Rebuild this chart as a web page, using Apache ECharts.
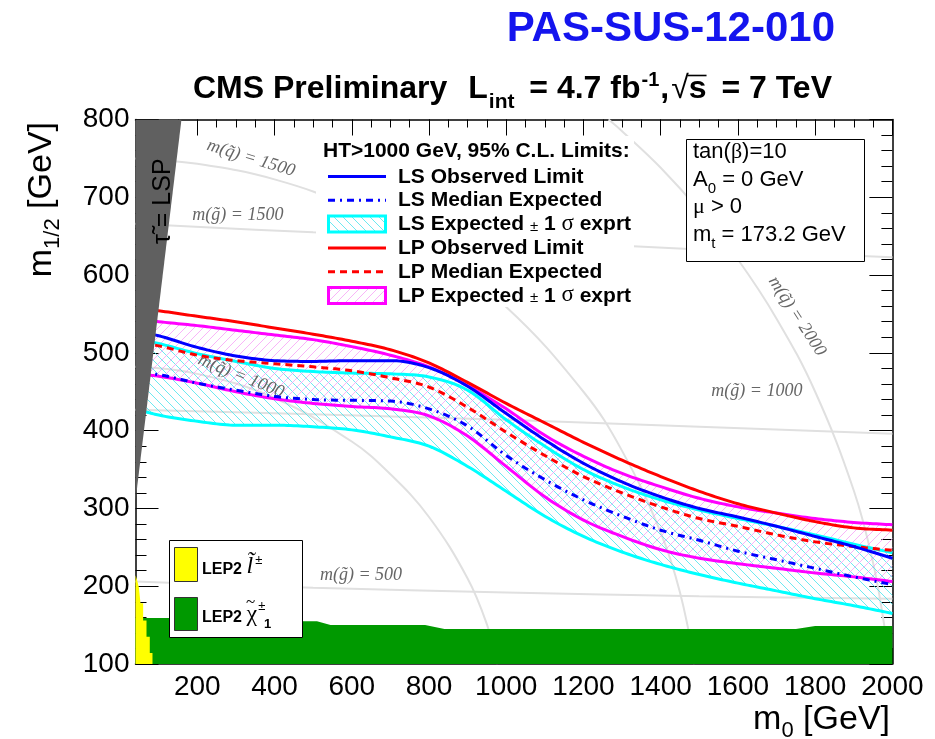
<!DOCTYPE html>
<html>
<head>
<meta charset="utf-8">
<title>CMS SUSY LS/LP limits, HT&gt;1000 GeV</title>
<script src="https://cdn.jsdelivr.net/npm/echarts@6/dist/echarts.min.js"></script>
<style>
html, body { margin: 0; padding: 0; background: #fff; }
#chart { width: 935px; height: 739px; }
</style>
</head>
<body>
<div id="chart"></div>
<script>
// ---- exclusion contours: m1/2 (GeV) sampled on a common m0 grid (GeV) ----
const m0    = [60, 100, 200, 300, 400, 500, 600, 700, 800, 900, 1000, 1100, 1200, 1300, 1400, 1500, 1600, 1700, 1800, 1900, 2000];
const lpObs = [556, 554, 547, 540, 532, 524, 515, 504, 487, 462, 435, 410, 385, 362, 341, 322, 306, 294, 283, 275, 272];
const lpUp  = [542, 540, 535, 529, 523, 517, 508, 497, 482, 458, 428, 394, 367, 345, 328, 313, 302, 294, 287, 282, 279];
const lpExp = [512, 509, 497, 490, 486, 482, 477, 468, 456, 430, 398, 368, 341, 320, 302, 287, 277, 266, 257, 251, 246];
const lpDn  = [472, 470, 461, 450, 441, 435, 431, 428, 419, 393, 354, 315, 285, 264, 247, 236, 229, 223, 217, 212, 206];
const lsObs = [526, 522, 507, 496, 490, 489, 490, 490, 481, 457, 422, 388, 358, 334, 315, 300, 289, 277, 264, 251, 236];
const lsUp  = [516, 512, 499, 489, 480, 476, 474, 473, 469, 452, 414, 380, 350, 328, 311, 298, 287, 277, 266, 254, 243];
const lsExp = [474, 472, 461, 452, 444, 440, 439, 438, 428, 406, 368, 337, 311, 290, 272, 259, 245, 234, 223, 212, 202];
const lsDn  = [425, 420, 412, 407, 407, 405, 401, 392, 380, 354, 322, 290, 264, 244, 228, 215, 204, 194, 184, 175, 165];

// ---- LEP2 exclusions ----
const lepSleptonM0   = [40, 44, 48.6, 53, 59.8, 68.5, 77, 84];
const lepSleptonM12  = [214, 208, 199, 178, 156, 135, 114, 100];
const lepCharginoM0  = [40, 430, 470, 510, 545, 790, 840, 1750, 1800, 2000];
const lepCharginoM12 = [159, 159, 155, 155, 150, 150, 145, 145, 149, 149];

// ---- stau LSP region ----
const stauLspM0  = [40, 159, 40];
const stauLspM12 = [800, 800, 310];

// ---- iso-mass curves [m0, m1/2] ----
const squark1000 = [[40, 482], [200, 473], [400, 442], [600, 386], [700, 344], [800, 289], [900, 210], [950, 151], [978, 100]];
const squark1500 = [[40, 750], [200, 743], [400, 723], [600, 687], [800, 634], [1000, 559], [1200, 450], [1300, 374], [1400, 269], [1450, 192], [1488, 100]];
const squark2000 = [[1265, 800], [1300, 785], [1400, 738], [1500, 683], [1600, 620], [1700, 544], [1800, 450], [1900, 323], [1950, 230], [1980, 146], [1991, 100]];
const gluino500  = [[40, 206], [500, 198], [1000, 192], [1500, 187], [2000, 184]];
const gluino1000 = [[40, 427], [500, 421], [1000, 414], [1500, 405], [2000, 396]];
const gluino1500 = [[40, 666], [500, 655], [1000, 645], [1500, 633], [2000, 623]];

// ---- axis ticks ----
const xTicks = [200, 400, 600, 800, 1000, 1200, 1400, 1600, 1800, 2000];
const xMinorTicks = [];
for (let v = 50; v <= 2000; v += 50) xMinorTicks.push(v);

// labels on the iso-mass curves
const isoLabels = [
  { m0: 339,  m12: 750, text: 'm(q\u0303) = 1500', angle: -17 },
  { m0: 305,  m12: 677, text: 'm(g\u0303) = 1500', angle: 0 },
  { m0: 313,  m12: 470, text: 'm(q\u0303) = 1000', angle: -22 },
  { m0: 1649, m12: 451, text: 'm(g\u0303) = 1000', angle: 0 },
  { m0: 1753, m12: 547, text: 'm(q\u0303) = 2000', angle: -57 },
  { m0: 624,  m12: 214, text: 'm(g\u0303) = 500', angle: 0 }
];

const SANS = '"Liberation Sans", Arial, Helvetica, sans-serif';
const SERIF = '"Liberation Serif", "Times New Roman", serif';
const CYAN = '#00ffff', MAGENTA = '#ff00ff', BLUE = '#0000ff', RED = '#ff0000';
const DASH = [7, 5], DASHDOT = [7, 5, 2, 5];

const zip = (xs, ys) => xs.map((x, i) => [x, ys[i]]);

// Smooth monotone (Fritsch-Carlson) curve through the contour points,
// evaluated finely for drawing.
function smoothCurve(xs, ys, perSeg) {
  const n = xs.length, d = [], m = new Array(n);
  for (let i = 0; i < n - 1; i++) d.push((ys[i + 1] - ys[i]) / (xs[i + 1] - xs[i]));
  m[0] = d[0]; m[n - 1] = d[n - 2];
  for (let i = 1; i < n - 1; i++) m[i] = (d[i - 1] * d[i] <= 0) ? 0 : (d[i - 1] + d[i]) / 2;
  for (let i = 0; i < n - 1; i++) {
    if (d[i] === 0) { m[i] = 0; m[i + 1] = 0; continue; }
    const a = m[i] / d[i], b = m[i + 1] / d[i], s = a * a + b * b;
    if (s > 9) { const t = 3 / Math.sqrt(s); m[i] = t * a * d[i]; m[i + 1] = t * b * d[i]; }
  }
  const out = [];
  for (let i = 0; i < n - 1; i++) {
    const h = xs[i + 1] - xs[i];
    for (let k = 0; k < perSeg; k++) {
      const t = k / perSeg, t2 = t * t, t3 = t2 * t;
      const y = (2 * t3 - 3 * t2 + 1) * ys[i] + (t3 - 2 * t2 + t) * h * m[i] +
                (-2 * t3 + 3 * t2) * ys[i + 1] + (t3 - t2) * h * m[i + 1];
      out.push([xs[i] + t * h, y]);
    }
  }
  out.push([xs[n - 1], ys[n - 1]]);
  return out;
}

// diagonal hatch tile used for the +-1 sigma bands
function hatch(dir, color, step) {
  const c = document.createElement('canvas');
  c.width = c.height = step;
  const g = c.getContext('2d');
  g.strokeStyle = color;
  g.lineWidth = 1;
  g.beginPath();
  for (let k = -1; k <= 1; k++) {
    if (dir === '\\') { g.moveTo(k * step, 0); g.lineTo(k * step + step, step); }
    else { g.moveTo(k * step, step); g.lineTo(k * step + step, 0); }
  }
  g.stroke();
  return { image: c, repeat: 'repeat' };
}
const cyanHatch = hatch('\\', 'rgba(60,225,235,0.75)', 9);
const pinkHatch = hatch('/', 'rgba(245,150,245,0.7)', 9);

// ---- text runs (sub/superscripts, mixed fonts) ----
const mctx = document.createElement('canvas').getContext('2d');
function fontStr(p) {
  return (p.italic ? 'italic ' : '') + (p.bold ? 'bold ' : '') + p.size + 'px ' + (p.fam || SANS);
}
function measure(p) { mctx.font = fontStr(p); return mctx.measureText(p.t).width; }
function runEls(parts, x0, base, opts) {
  opts = opts || {};
  const widths = parts.map(measure);
  const total = widths.reduce((a, b) => a + b, 0) + parts.reduce((a, p) => a + (p.dx || 0), 0);
  let x = opts.align === 'right' ? x0 - total : (opts.align === 'center' ? x0 - total / 2 : x0);
  const els = [], xs = [];
  parts.forEach((p, i) => {
    x += (p.dx || 0);
    xs.push(x);
    els.push({
      type: 'text', x: x, y: base + (p.dy || 0) - 0.345 * p.size, z: opts.z || 100, silent: true,
      style: { text: p.t, font: fontStr(p), fill: p.color || opts.color || '#000',
               align: 'left', verticalAlign: 'middle', textAlign: 'left', textVerticalAlign: 'middle' }
    });
    x += widths[i];
  });
  return { els: els, total: total, xs: xs, widths: widths };
}

const graphics = [];
function add(list) { list.forEach(e => graphics.push(e)); }

// header
add(runEls([{ t: 'PAS-SUS-12-010', size: 42, bold: true, color: '#1414ee' }], 835, 44, { align: 'right' }).els);
add(runEls([{ t: 'CMS Preliminary', size: 32, bold: true }], 193, 100).els);
const lumi = runEls([
  { t: 'L', size: 32, bold: true },
  { t: 'int', size: 21, bold: true, dy: 9, dx: 1 },
  { t: ' = 4.7 fb', size: 32, bold: true, dx: 6 },
  { t: '-1', size: 20, bold: true, dy: -13, dx: 1 },
  { t: ',', size: 32, bold: true, dx: 1 },
  { t: '\u221a', size: 32, dx: 2 },
  { t: 's', size: 32, bold: true },
  { t: ' = 7 TeV', size: 32, bold: true, dx: 6 }
], 832, 100, { align: 'right' });
add(lumi.els);
graphics.push({ type: 'line', z: 100, silent: true,
  shape: { x1: lumi.xs[5] + lumi.widths[5] - 1, y1: 75.5, x2: lumi.xs[6] + lumi.widths[6], y2: 75.5 },
  style: { stroke: '#000', lineWidth: 1.6 } });

// limits legend
graphics.push({ type: 'rect', z: 90, silent: true, shape: { x: 316, y: 136, width: 318, height: 171 }, style: { fill: '#fff' } });
add(runEls([{ t: 'HT>1000 GeV, 95% C.L. Limits:', size: 21, bold: true }], 323, 158).els);
const legendRows = [
  { kind: 'line', color: BLUE, dash: null, label: 'LS Observed Limit' },
  { kind: 'line', color: BLUE, dash: DASHDOT, label: 'LS Median Expected' },
  { kind: 'band', color: CYAN, fill: cyanHatch, label: 'LS Expected' },
  { kind: 'line', color: RED, dash: null, label: 'LP Observed Limit' },
  { kind: 'line', color: RED, dash: DASH, label: 'LP Median Expected' },
  { kind: 'band', color: MAGENTA, fill: pinkHatch, label: 'LP Expected' }
];
legendRows.forEach((r, i) => {
  const base = 184 + i * 23.8;
  const cy = base - 7.5;
  if (r.kind === 'line') {
    graphics.push({ type: 'line', z: 100, silent: true, shape: { x1: 328, y1: cy, x2: 386, y2: cy },
      style: { stroke: r.color, lineWidth: 3, lineDash: r.dash || null } });
    add(runEls([{ t: r.label, size: 21, bold: true }], 398, base).els);
  } else {
    graphics.push({ type: 'rect', z: 100, silent: true, shape: { x: 328.5, y: cy - 8, width: 57, height: 16 },
      style: { fill: r.fill, stroke: r.color, lineWidth: 3 } });
    add(runEls([
      { t: r.label + ' ', size: 21, bold: true },
      { t: '\u00b1', size: 15 },
      { t: ' 1 ', size: 21, bold: true },
      { t: '\u03c3', size: 23, fam: SERIF },
      { t: ' exprt', size: 21, bold: true }
    ], 398, base).els);
  }
});

// parameter box
graphics.push({ type: 'rect', z: 100, silent: true, shape: { x: 686.5, y: 139.5, width: 178, height: 122 },
  style: { fill: '#fff', stroke: '#000', lineWidth: 1 } });
add(runEls([{ t: 'tan(', size: 22 }, { t: '\u03b2', size: 22, fam: SERIF }, { t: ')=10', size: 22 }], 693, 160, { z: 101 }).els);
add(runEls([{ t: 'A', size: 22 }, { t: '0', size: 15, dy: 6 }, { t: ' = 0 GeV', size: 22 }], 693, 188, { z: 101 }).els);
add(runEls([{ t: '\u03bc', size: 22, fam: SERIF }, { t: ' > 0', size: 22 }], 693, 215, { z: 101 }).els);
add(runEls([{ t: 'm', size: 22 }, { t: 't', size: 15, dy: 6 }, { t: ' = 173.2 GeV', size: 22 }], 693, 243, { z: 101 }).els);

// LEP2 legend
graphics.push({ type: 'rect', z: 100, silent: true, shape: { x: 169.5, y: 540.5, width: 133, height: 97 },
  style: { fill: '#fff', stroke: '#000', lineWidth: 1 } });
graphics.push({ type: 'rect', z: 101, silent: true, shape: { x: 174.5, y: 547.5, width: 23, height: 34 },
  style: { fill: '#ffff00', stroke: '#333', lineWidth: 1 } });
graphics.push({ type: 'rect', z: 101, silent: true, shape: { x: 174.5, y: 597.5, width: 23, height: 33 },
  style: { fill: '#009900', stroke: '#333', lineWidth: 1 } });
add(runEls([{ t: 'LEP2 ', size: 16, bold: true }, { t: 'l\u0303', size: 24, italic: true, fam: SERIF },
  { t: '\u00b1', size: 13, dy: -10, dx: 2 }], 202, 575, { z: 101 }).els);
add(runEls([{ t: 'LEP2 ', size: 16, bold: true }, { t: '\u03c7', size: 24, fam: SERIF },
  { t: '~', size: 17, fam: SERIF, dx: -11, dy: -15 },
  { t: '\u00b1', size: 13, dy: -12, dx: 3 }], 202, 623, { z: 101 }).els);
add(runEls([{ t: '1', size: 13, bold: true }], 264, 629, { z: 101 }).els);

// axis titles
const yTitle = runEls([{ t: 'm', size: 34 }, { t: '1/2', size: 22, dy: 8 }, { t: ' [GeV]', size: 34 }], 0, 0);
graphics.push({ type: 'group', x: 53, y: 122 + yTitle.total, rotation: Math.PI / 2, children: yTitle.els });
add(runEls([{ t: 'm', size: 34 }, { t: '0', size: 22, dy: 8 }, { t: ' [GeV]', size: 34 }], 890, 731, { align: 'right' }).els);

// stau LSP label
const stauLabel = runEls([{ t: '\u03c4\u0303 = LSP', size: 25 }], 0, 0);
graphics.push({ type: 'group', x: 172, y: 244, rotation: Math.PI / 2, children: stauLabel.els });

function isoLine(pts) {
  return { type: 'line', data: pts, smooth: 0.4, symbol: 'none', silent: true, clip: true,
           lineStyle: { color: '#e0e0e0', width: 2 }, z: 1 };
}
// one contour line drawn through the axes' coordinate mapping
function contour(vals, color, dash, z) {
  const pts = smoothCurve(m0, vals, 12);
  return {
    type: 'custom', silent: true, z: z, clip: true,
    data: zip(m0, vals),
    renderItem: function (params, api) {
      if (params.dataIndex !== 0) return null;
      return { type: 'polyline', shape: { points: pts.map(p => api.coord(p)) },
               style: { stroke: color, lineWidth: 3, fill: null, lineDash: dash || null } };
    }
  };
}
// hatched band between two contours
function band(lo, hi, fill, z) {
  const top = smoothCurve(m0, hi, 12), bottom = smoothCurve(m0, lo, 12).reverse();
  return {
    type: 'custom', silent: true, z: z, clip: true,
    data: zip(m0, hi),
    renderItem: function (params, api) {
      if (params.dataIndex !== 0) return null;
      return { type: 'polygon', shape: { points: top.concat(bottom).map(p => api.coord(p)) },
               style: { fill: fill } };
    }
  };
}

const axisCommon = { type: 'value', splitLine: { show: false } };
const tickStyle = { color: '#000', width: 1 };

const option = {
  animation: false,
  backgroundColor: '#fff',
  grid: { left: 135.5, right: 42.6, top: 119.5, bottom: 75 },
  xAxis: [
    Object.assign({}, axisCommon, { min: 40, max: 2000, position: 'bottom',
      axisLine: { show: true, lineStyle: { color: '#000', width: 1.5 } },
      axisTick: { show: true, inside: true, length: 16, customValues: xTicks, lineStyle: tickStyle },
      axisLabel: { show: true, customValues: xTicks, fontSize: 28, fontFamily: SANS, color: '#000', margin: 9,
                   formatter: v => String(v) } }),
    Object.assign({}, axisCommon, { min: 40, max: 2000, position: 'bottom',
      axisLine: { show: false },
      axisTick: { show: true, inside: true, length: 8, customValues: xMinorTicks, lineStyle: tickStyle },
      axisLabel: { show: false } }),
    Object.assign({}, axisCommon, { min: 40, max: 2000, position: 'top',
      axisLine: { show: true, lineStyle: { color: '#000', width: 1.5 } },
      axisTick: { show: true, inside: true, length: 16, customValues: xTicks, lineStyle: tickStyle },
      axisLabel: { show: false } }),
    Object.assign({}, axisCommon, { min: 40, max: 2000, position: 'top',
      axisLine: { show: false },
      axisTick: { show: true, inside: true, length: 8, customValues: xMinorTicks, lineStyle: tickStyle },
      axisLabel: { show: false } })
  ],
  yAxis: [
    Object.assign({}, axisCommon, { min: 100, max: 800, interval: 100, position: 'left',
      axisLine: { show: true, lineStyle: { color: '#000', width: 1.5 } },
      axisTick: { show: true, inside: true, length: 23, lineStyle: tickStyle },
      minorTick: { show: true, splitNumber: 5, length: 11, lineStyle: tickStyle },
      axisLabel: { show: true, fontSize: 28, fontFamily: SANS, color: '#000', margin: 6 } }),
    Object.assign({}, axisCommon, { min: 100, max: 800, interval: 100, position: 'right',
      axisLine: { show: true, lineStyle: { color: '#000', width: 1.5 } },
      axisTick: { show: true, inside: true, length: 23, lineStyle: tickStyle },
      minorTick: { show: true, splitNumber: 5, length: 11, lineStyle: tickStyle },
      axisLabel: { show: false } })
  ],
  series: [
    isoLine(squark1000), isoLine(squark1500), isoLine(squark2000),
    isoLine(gluino500), isoLine(gluino1000), isoLine(gluino1500),
    {
      type: 'custom', silent: true, z: 3, clip: false,
      data: isoLabels.map(l => [l.m0, l.m12]),
      renderItem: function (params, api) {
        const l = isoLabels[params.dataIndex];
        const p = api.coord([l.m0, l.m12]);
        return { type: 'text', x: p[0], y: p[1], rotation: l.angle * Math.PI / 180,
          style: { text: l.text, font: 'italic 18px ' + SERIF, fill: '#666', align: 'center', verticalAlign: 'middle',
                   textAlign: 'center', textVerticalAlign: 'middle' } };
      }
    },
    band(lsDn, lsUp, cyanHatch, 2),
    band(lpDn, lpUp, pinkHatch, 2),
    contour(lsDn, CYAN, null, 4), contour(lsUp, CYAN, null, 4),
    contour(lpDn, MAGENTA, null, 4), contour(lpUp, MAGENTA, null, 4),
    contour(lsExp, BLUE, DASHDOT, 5), contour(lpExp, RED, DASH, 5),
    contour(lsObs, BLUE, null, 6), contour(lpObs, RED, null, 6),
    { type: 'line', data: zip(lepCharginoM0, lepCharginoM12), symbol: 'none', silent: true,
      lineStyle: { opacity: 0 }, areaStyle: { color: '#009900', opacity: 1, origin: 'start' }, z: 7 },
    { type: 'line', data: zip(lepSleptonM0, lepSleptonM12), step: 'end', symbol: 'none', silent: true,
      lineStyle: { opacity: 0 }, areaStyle: { color: '#ffff00', opacity: 1, origin: 'start' }, z: 8 },
    {
      type: 'custom', silent: true, z: 9, clip: true,
      data: [[stauLspM0[0], stauLspM12[0]]],
      renderItem: function (params, api) {
        const pts = stauLspM0.map((x, i) => api.coord([x, stauLspM12[i]]));
        return { type: 'polygon', shape: { points: pts }, style: { fill: '#606060' } };
      }
    }
  ],
  graphic: { elements: graphics }
};

const chart = echarts.init(document.getElementById('chart'));
chart.setOption(option);
</script>
</body>
</html>
